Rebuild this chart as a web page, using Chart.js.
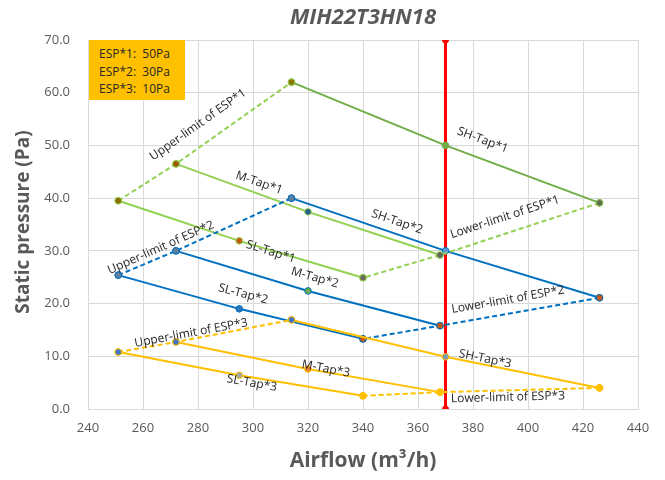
<!DOCTYPE html>
<html>
<head>
<meta charset="utf-8">
<script src="https://cdn.jsdelivr.net/npm/chart.js@4.4.1/dist/chart.umd.min.js"></script>
<style>
  html, body { margin: 0; padding: 0; background: #fff; }
  #wrap { position: relative; width: 665px; height: 480px; }
  #espBox {
    position: absolute; left: 89px; top: 40px; width: 96px; height: 60px;
    background: #FFC000; color: #262626; font: 12px "Open Sans", sans-serif;
    line-height: 17.5px; padding: 5px 0 0 10px; box-sizing: border-box; white-space: pre;
  }
</style>
</head>
<body>
<div id="wrap">
  <canvas id="chart" width="665" height="480"></canvas>
  <div id="espBox">ESP*1:  50Pa
ESP*2:  30Pa
ESP*3:  10Pa</div>
</div>
<script>
// ---- ESP*1 (green) ----
const upper1X = [251, 272, 314];
const upper1Y = [39.5, 46.5, 62.0];
const sh1X = [314, 370, 426];
const sh1Y = [62.0, 50.0, 39.1];
const lower1X = [426, 368, 340];
const lower1Y = [39.1, 29.2, 24.9];
const m1X = [272, 320, 368];
const m1Y = [46.5, 37.4, 29.2];
const sl1X = [251, 295, 340];
const sl1Y = [39.5, 31.9, 24.9];

// ---- ESP*2 (blue) ----
const upper2X = [251, 272, 314];
const upper2Y = [25.4, 30.0, 40.0];
const sh2X = [314, 370, 426];
const sh2Y = [40.0, 30.0, 21.1];
const lower2X = [426, 368, 340];
const lower2Y = [21.1, 15.8, 13.3];
const m2X = [272, 320, 368];
const m2Y = [30.0, 22.4, 15.8];
const sl2X = [251, 295, 340];
const sl2Y = [25.4, 19.0, 13.3];

// ---- ESP*3 (yellow) ----
const upper3X = [251, 272, 314];
const upper3Y = [10.8, 12.7, 16.9];
const sh3X = [314, 370, 426];
const sh3Y = [16.9, 9.9, 4.0];
const lower3X = [426, 368, 340];
const lower3Y = [4.0, 3.2, 2.5];
const m3X = [272, 320, 368];
const m3Y = [12.7, 7.6, 3.2];
const sl3X = [251, 295, 340];
const sl3Y = [10.8, 6.4, 2.5];

// red rated-airflow line
const ratedX = [370, 370];
const ratedY = [0, 70];

const xTicks = [240, 260, 280, 300, 320, 340, 360, 380, 400, 420, 440];
const yTicks = [0, 10, 20, 30, 40, 50, 60, 70];

// text labels: [text, centerX, centerY, segment x1, y1, x2, y2]
const lineLabels = [
  ["Upper-limit of ESP*1", 280, 53.9, 272, 46.5, 314, 62.0],
  ["SH-Tap*1", 383.5, 51.0, 370, 50.0, 426, 39.1],
  ["M-Tap*1", 302.2, 42.9, 272, 46.5, 368, 29.2],
  ["SH-Tap*2", 352.4, 35.5, 314, 40.0, 370, 30.0],
  ["Lower-limit of ESP*1", 391.6, 36.4, 368, 29.2, 426, 39.1],
  ["SL-Tap*1", 306.5, 29.8, 251, 39.5, 340, 24.9],
  ["Upper-limit of ESP*2", 266.5, 30.6, 251, 25.4, 314, 40.0],
  ["M-Tap*2", 322.5, 24.9, 272, 30.0, 368, 15.8],
  ["Lower-limit of ESP*2", 392.7, 20.7, 368, 15.8, 426, 21.1],
  ["SL-Tap*2", 296.4, 21.8, 251, 25.4, 340, 13.3],
  ["Upper-limit of ESP*3", 277.5, 14.4, 251, 10.8, 314, 16.9],
  ["SH-Tap*3", 384.4, 9.5, 370, 9.9, 426, 4.0],
  ["M-Tap*3", 326.5, 7.6, 272, 12.7, 368, 3.2],
  ["SL-Tap*3", 299.6, 4.9, 251, 10.8, 340, 2.5],
  ["Lower-limit of ESP*3", 392.7, 2.2, 368, 3.2, 426, 4.0]
];

const GREEN = "#70AD47", LGREEN = "#92D050", BLUE = "#0070C0", YELLOW = "#FFC000", RED = "#FF0000";

function pts(xs, ys) { return xs.map((x, i) => ({ x: x, y: ys[i] })); }

function series(xs, ys, color, dashed, fills, borders) {
  return {
    data: pts(xs, ys),
    showLine: true,
    borderColor: color,
    borderWidth: 2,
    borderDash: dashed ? [5, 3] : [],
    pointRadius: 3.3,
    pointBorderWidth: 1,
    pointBackgroundColor: fills,
    pointBorderColor: borders || color,
    pointHoverRadius: 3.3
  };
}

const datasets = [
  series(upper3X, upper3Y, YELLOW, true, ["#4472C4", "#4472C4", "#4472C4"]),
  series(m3X, m3Y, YELLOW, false, ["#4472C4", "#ED7D31", YELLOW]),
  series(sl3X, sl3Y, YELLOW, false, ["#4472C4", "#A5A5A5", YELLOW]),
  series(lower3X, lower3Y, YELLOW, true, [YELLOW, YELLOW, YELLOW]),
  series(sh3X, sh3Y, YELLOW, false, ["#4472C4", "#7F9DB9", YELLOW]),
  series(upper2X, upper2Y, BLUE, true, ["#5F7F9F", "#5F7F9F", "#5F7F9F"]),
  series(m2X, m2Y, BLUE, false, ["#5F7F9F", "#70AD47", "#C55A11"]),
  series(sl2X, sl2Y, BLUE, false, ["#5F7F9F", "#2E75B6", "#C55A11"]),
  series(lower2X, lower2Y, BLUE, true, ["#C55A11", "#C55A11", "#C55A11"]),
  series(upper1X, upper1Y, LGREEN, true, ["#8C6D00", "#9C5700", "#8C7A00"]),
  series(m1X, m1Y, LGREEN, false, ["#9C5700", "#255E91", "#636363"]),
  series(sl1X, sl1Y, LGREEN, false, ["#8C6D00", "#C55A11", "#6B6B5B"]),
  series(lower1X, lower1Y, LGREEN, true, ["#5E6B4F", "#636363", "#6B6B5B"]),
  series(sh1X, sh1Y, GREEN, false, ["#8C7A00", GREEN, "#5E6B4F"]),
  series(sh2X, sh2Y, BLUE, false, ["#5F7F9F", "#5B9BD5", "#C55A11"])
];
// rated line drawn last (on top)
const rated = series(ratedX, ratedY, RED, false, [RED, RED]);
rated.borderWidth = 3;
rated.pointRadius = 3;
datasets.push(rated);

const textPlugin = {
  id: "chartTexts",
  afterDraw(chart) {
    const ctx = chart.ctx;
    ctx.save();
    ctx.fillStyle = "#595959";
    ctx.textAlign = "center";
    ctx.textBaseline = "middle";
    ctx.font = "italic bold 22px 'Open Sans', sans-serif";
    ctx.fillText("MIH22T3HN18", 363, 18);
    ctx.translate(24, 222);
    ctx.rotate(-Math.PI / 2);
    ctx.font = "bold 19px 'Open Sans', sans-serif";
    ctx.fillText("Static pressure (Pa)", 0, 0);
    ctx.restore();
  }
};

const labelPlugin = {
  id: "lineLabels",
  afterDatasetsDraw(chart) {
    const ctx = chart.ctx, xs = chart.scales.x, ys = chart.scales.y;
    ctx.save();
    ctx.font = "12px 'Open Sans', sans-serif";
    ctx.fillStyle = "#262626";
    ctx.textAlign = "center";
    ctx.textBaseline = "middle";
    lineLabels.forEach(l => {
      const cx = xs.getPixelForValue(l[1]), cy = ys.getPixelForValue(l[2]);
      const ang = Math.atan2(ys.getPixelForValue(l[6]) - ys.getPixelForValue(l[4]),
                             xs.getPixelForValue(l[5]) - xs.getPixelForValue(l[3]));
      ctx.save();
      ctx.translate(cx, cy);
      ctx.rotate(ang);
      ctx.fillText(l[0], 0, 0);
      ctx.restore();
    });
    ctx.restore();
  }
};

new Chart(document.getElementById("chart"), {
  type: "scatter",
  data: { datasets: datasets },
  plugins: [textPlugin, labelPlugin],
  options: {
    responsive: false,
    animation: false,
    devicePixelRatio: 1,
    layout: { padding: { top: 40, right: 27, left: 0, bottom: 0 } },
    plugins: { legend: { display: false }, tooltip: { enabled: false }, title: { display: false } },
    scales: {
      x: {
        type: "linear", min: 240, max: 440,
        afterBuildTicks: s => { s.ticks = xTicks.map(v => ({ value: v })); },
        afterFit: s => { s.height = 71; },
        grid: { color: "#D9D9D9", drawTicks: false },
        border: { color: "#D9D9D9" },
        ticks: { color: "#595959", font: { size: 13, family: "'Open Sans', sans-serif" }, padding: 11 },
        title: { display: true, text: "Airflow (m³/h)", color: "#595959",
                 font: { size: 21, weight: "bold", family: "'Open Sans', sans-serif" }, padding: { top: 0, bottom: 6 } }
      },
      y: {
        type: "linear", min: 0, max: 70,
        afterBuildTicks: s => { s.ticks = yTicks.map(v => ({ value: v })); },
        afterFit: s => { s.width = 88; },
        grid: { color: "#D9D9D9", drawTicks: false },
        border: { display: false },
        ticks: { color: "#595959", font: { size: 13, family: "'Open Sans', sans-serif" }, padding: 18,
                 callback: v => v.toFixed(1) },
        title: { display: false }
      }
    }
  }
});
</script>
</body>
</html>
